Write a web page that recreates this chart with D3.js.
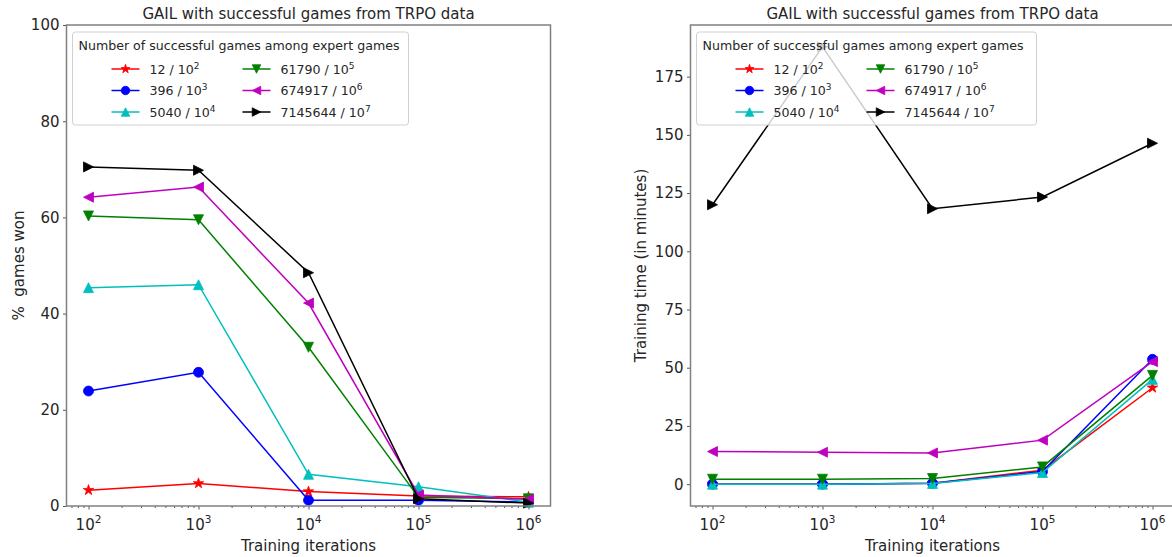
<!DOCTYPE html>
<meta charset="utf-8">
<head>
    <title>GAIL with successful games</title>
</head>
<style>
    body { margin: 0; background: #fff; }
    text { font-family: "DejaVu Sans", sans-serif; fill: #262626; white-space: pre; }
    .axis path { display: none; }
    .axis line { stroke: #555; }
</style>
<svg width="1172" height="557"></svg>
<script src="https://d3js.org/d3.v7.min.js"></script>
<script>

    // training iterations on the x axis
    var iterations = [1e2, 1e3, 1e4, 1e5, 1e6];

    // legend: successful games / expert games
    var successCounts = [12, 396, 5040, 61790, 674917, 7145644];
    var expertExponents = [2, 3, 4, 5, 6, 7];
    var colors = ["#ff0000", "#0000ff", "#00bfbf", "#008000", "#bf00bf", "#000000"];
    var markers = ["star", "circle", "up", "down", "left", "right"];

    // % games won (left panel)
    var won12 = [3.3, 4.7, 3.0, 2.1, 1.9];
    var won396 = [23.9, 27.8, 1.2, 1.2, 0.8];
    var won5040 = [45.4, 46.0, 6.6, 4.0, 0.8];
    var won61790 = [60.3, 59.5, 33.0, 1.8, 1.5];
    var won674917 = [64.2, 66.3, 42.2, 2.3, 1.4];
    var won7145644 = [70.5, 69.8, 48.5, 1.5, 0.6];

    // training time in minutes (right panel)
    var time12 = [0, 0, 0.4, 6.0, 41.4];
    var time396 = [0, 0, 0.4, 5.4, 53.6];
    var time5040 = [0, 0, 0.3, 5.0, 45.0];
    var time61790 = [2.1, 2.1, 2.4, 7.4, 46.7];
    var time674917 = [14.0, 13.7, 13.4, 18.9, 52.6];
    var time7145644 = [120.0, 187.8, 118.3, 123.3, 146.4];

    var wonSeries = [won12, won396, won5040, won61790, won674917, won7145644];
    var timeSeries = [time12, time396, time5040, time61790, time674917, time7145644];

    var titleText = "GAIL with successful games from TRPO data";
    var legendTitle = "Number of successful games among expert games";

    var svg = d3.select("svg");

    function markerPath(type, s) {
        var h = s / 2;
        if (type === "circle") return d3.symbol(d3.symbolCircle, Math.PI * h * h)();
        if (type === "up") return "M0," + (-h) + "L" + (-h) + "," + h + "L" + h + "," + h + "Z";
        if (type === "down") return "M0," + h + "L" + (-h) + "," + (-h) + "L" + h + "," + (-h) + "Z";
        if (type === "left") return "M" + (-h) + ",0L" + h + "," + (-h) + "L" + h + "," + h + "Z";
        if (type === "right") return "M" + h + ",0L" + (-h) + "," + (-h) + "L" + (-h) + "," + h + "Z";
        // star
        var pts = [];
        for (var i = 0; i < 10; i++) {
            var r = i % 2 === 0 ? h * 1.1 : h * 1.1 * 0.382;
            var a = -Math.PI / 2 + i * Math.PI / 5;
            pts.push([r * Math.cos(a), r * Math.sin(a)]);
        }
        return "M" + pts.join("L") + "Z";
    }

    function drawPanel(opts) {
        var left = opts.left, right = left + 484, top = 25, bottom = 506;
        var g = svg.append("g");

        var x = d3.scaleLog().domain([Math.pow(10, 1.8), Math.pow(10, 6.2)]).range([left, right]);
        var y = d3.scaleLinear().domain(opts.yDomain).range([bottom, top]);

        // minor ticks
        var minors = [];
        for (var e = 1; e <= 6; e++) {
            for (var m = 2; m <= 9; m++) {
                var v = m * Math.pow(10, e);
                if (v > x.domain()[0] && v < x.domain()[1]) minors.push(v);
            }
        }
        g.append("g").attr("class", "axis").attr("transform", "translate(0," + bottom + ")")
            .call(d3.axisBottom(x).tickValues(minors).tickSize(2).tickFormat(""));
        g.append("g").attr("class", "axis").attr("transform", "translate(0," + bottom + ")")
            .call(d3.axisBottom(x).tickValues(iterations).tickSize(3.5).tickFormat(""));

        var xl = g.selectAll(".xlab").data(iterations).enter().append("text")
            .attr("x", function(d) { return x(d); })
            .attr("y", 530)
            .attr("text-anchor", "middle")
            .style("font-size", "15px");
        xl.append("tspan").text("10");
        xl.append("tspan").attr("dy", -7).style("font-size", "10.5px")
            .text(function(d) { return Math.round(Math.log10(d)); });

        g.append("g").attr("class", "axis").attr("transform", "translate(" + left + ",0)")
            .call(d3.axisLeft(y).tickValues(opts.yTicks).tickSize(3.5).tickFormat(""));
        g.selectAll(".ylab").data(opts.yTicks).enter().append("text")
            .attr("x", left - 7)
            .attr("y", function(d) { return y(d); })
            .attr("dy", "0.36em")
            .attr("text-anchor", "end")
            .style("font-size", "15px")
            .text(function(d) { return d; });

        // series
        var line = d3.line().x(function(d, i) { return x(iterations[i]); }).y(function(d) { return y(d); });
        opts.series.forEach(function(vals, k) {
            g.append("path").datum(vals)
                .attr("d", line)
                .attr("fill", "none")
                .attr("stroke", colors[k])
                .attr("stroke-width", 1.5);
            g.selectAll(null).data(vals).enter().append("path")
                .attr("transform", function(d, i) { return "translate(" + x(iterations[i]) + "," + y(d) + ")"; })
                .attr("d", markerPath(markers[k], 10))
                .attr("fill", colors[k])
                .attr("stroke", colors[k])
                .attr("stroke-width", 0.8);
        });

        // frame
        g.append("rect")
            .attr("x", left).attr("y", top)
            .attr("width", right - left).attr("height", bottom - top)
            .attr("fill", "none").attr("stroke", "#808080").attr("stroke-width", 1.5);

        // legend
        var lx = left + 6, ly = 32;
        var lg = g.append("g").attr("transform", "translate(" + lx + "," + ly + ")");
        lg.append("rect")
            .attr("width", opts.legendWidth).attr("height", 93)
            .attr("rx", 3)
            .attr("fill", "#fff").attr("fill-opacity", 0.8)
            .attr("stroke", "#d0d0d0").attr("stroke-width", 1);
        lg.append("text").attr("x", 6).attr("y", 18)
            .style("font-size", "12.6px")
            .text(legendTitle);
        successCounts.forEach(function(c, k) {
            var col = Math.floor(k / 3), row = k % 3;
            var ox = col === 0 ? 39 : 170, oy = 37 + row * 21.5;
            lg.append("line")
                .attr("x1", ox).attr("x2", ox + 28).attr("y1", oy).attr("y2", oy)
                .attr("stroke", colors[k]).attr("stroke-width", 1.5);
            lg.append("path")
                .attr("transform", "translate(" + (ox + 14) + "," + oy + ")")
                .attr("d", markerPath(markers[k], 8.5))
                .attr("fill", colors[k]).attr("stroke", colors[k]).attr("stroke-width", 0.8);
            var t = lg.append("text").attr("x", ox + 38).attr("y", oy + 4.5).style("font-size", "12.6px");
            t.append("tspan").text(c + " / 10");
            t.append("tspan").attr("dy", -5).style("font-size", "9px").text(expertExponents[k]);
        });

        // title and axis labels
        var cx = (left + right) / 2;
        svg.append("text").attr("x", cx).attr("y", 19)
            .attr("text-anchor", "middle").style("font-size", "15px")
            .text(titleText);
        svg.append("text").attr("x", cx).attr("y", 551)
            .attr("text-anchor", "middle").style("font-size", "15px")
            .text("Training iterations");
        svg.append("text")
            .attr("transform", "translate(" + opts.yLabelX + "," + ((top + bottom) / 2) + ") rotate(-90)")
            .attr("text-anchor", "middle").style("font-size", "15px")
            .text(opts.yLabel);
    }

    drawPanel({
        left: 66.5,
        yDomain: [0, 100],
        yTicks: [0, 20, 40, 60, 80, 100],
        series: wonSeries,
        yLabel: "%  games won",
        yLabelX: 24,
        legendWidth: 336
    });

    var tMax = d3.max(timeSeries, function(s) { return d3.max(s); });
    var tMin = d3.min(timeSeries, function(s) { return d3.min(s); });
    var pad = (tMax - tMin) * 0.05;

    drawPanel({
        left: 690.5,
        yDomain: [tMin - pad, tMax + pad],
        yTicks: [0, 25, 50, 75, 100, 125, 150, 175],
        series: timeSeries,
        yLabel: "Training time (in minutes)",
        yLabelX: 646,
        legendWidth: 340
    });

</script>
